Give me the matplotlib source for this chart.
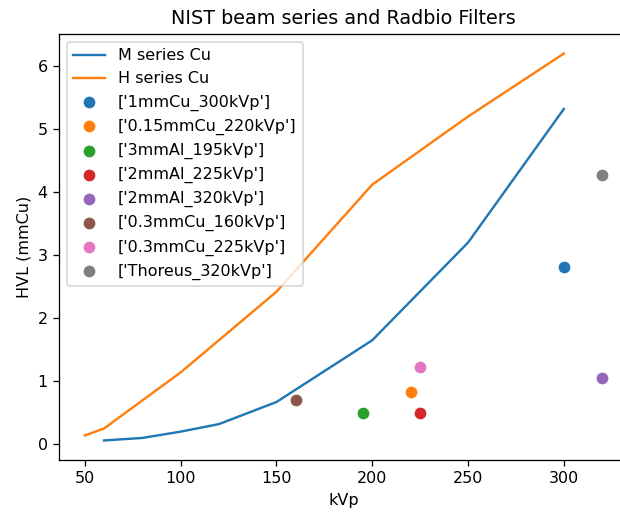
import matplotlib
matplotlib.use("Agg")
import matplotlib.pyplot as plt

# NIST beam series (HVL in mm Cu vs kVp)
m_kvp = [60, 80, 100, 120, 150, 200, 250, 300]
m_hvl = [0.06, 0.10, 0.20, 0.32, 0.67, 1.65, 3.20, 5.32]
h_kvp = [50, 60, 100, 150, 200, 250, 300]
h_hvl = [0.14, 0.25, 1.14, 2.42, 4.12, 5.20, 6.20]

# Radbio filters
filter_names = ["1mmCu_300kVp", "0.15mmCu_220kVp", "3mmAl_195kVp", "2mmAl_225kVp",
                "2mmAl_320kVp", "0.3mmCu_160kVp", "0.3mmCu_225kVp", "Thoreus_320kVp"]
filter_kvp = [300, 220, 195, 225, 320, 160, 225, 320]
filter_hvl = [2.81, 0.83, 0.49, 0.49, 1.05, 0.71, 1.22, 4.28]

dpi = 115
fig = plt.figure(figsize=(620 / dpi, 514 / dpi), dpi=dpi)
# axes runs past the right edge (reference picture is cropped there)
ax = fig.add_axes([59 / 620, 54 / 514, 569 / 620, 426 / 514])

ax.plot(m_kvp, m_hvl, label="M series Cu")
ax.plot(h_kvp, h_hvl, label="H series Cu")
for i, name in enumerate(filter_names):
    ax.scatter(filter_kvp[i], filter_hvl[i], s=66, color=f"C{i}",
               edgecolors="white", linewidths=0.75, label=str([name]))

ax.set_xlim(36.5, 333.5)
ax.set_ylim(-0.25, 6.51)
ax.set_xlabel("kVp")
ax.set_ylabel("HVL (mmCu)")
ax.set_title("NIST beam series and Radbio Filters")
ax.legend(loc="upper left")

fig.savefig("out.png", dpi=dpi)
